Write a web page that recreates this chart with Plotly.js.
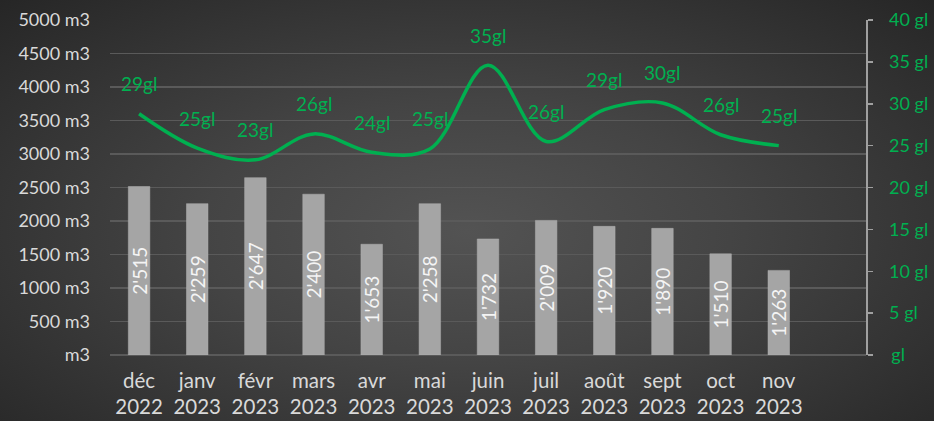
<!DOCTYPE html>
<html>
<head>
<meta charset="utf-8">
<script src="https://cdn.plot.ly/plotly-3.0.1.min.js"></script>
<style>
  html, body { margin: 0; padding: 0; }
  body {
    width: 934px; height: 421px; overflow: hidden;
    background: radial-gradient(ellipse farthest-corner at 50% 55%, #535353 0%, #444444 40%, #262626 100%);
  }
  #chart { width: 934px; height: 421px; }
</style>
</head>
<body>
<div id="chart"></div>
<script>
const months = ["déc", "janv", "févr", "mars", "avr", "mai", "juin", "juil", "août", "sept", "oct", "nov"];
const years = ["2022", "2023", "2023", "2023", "2023", "2023", "2023", "2023", "2023", "2023", "2023", "2023"];
const volumeM3 = [2515, 2259, 2647, 2400, 1653, 2258, 1732, 2009, 1920, 1890, 1510, 1263];
const gl = [28.8, 24.7, 23.3, 26.4, 24.2, 24.6, 34.6, 25.5, 29.3, 30.1, 26.3, 25.0];
const leftTickVals = [0, 500, 1000, 1500, 2000, 2500, 3000, 3500, 4000, 4500, 5000];
const leftTickText = ["\u00a0m3", "500 m3", "1000 m3", "1500 m3", "2000 m3", "2500 m3", "3000 m3", "3500 m3", "4000 m3", "4500 m3", "5000 m3"];
const rightTickVals = [0, 5, 10, 15, 20, 25, 30, 35, 40];
const rightTickText = ["\u2009gl", "5 gl", "10 gl", "15 gl", "20 gl", "25 gl", "30 gl", "35 gl", "40 gl"];

const cats = months.map((m, i) => m + "<br>" + years[i]);
const fmt = v => { const s = String(v); return s.length > 3 ? s.slice(0, s.length - 3) + "'" + s.slice(-3) : s; };
const barText = volumeM3.map(fmt);
const glText = gl.map(v => Math.round(v) + "gl");

const FONT = "Lato, 'Open Sans', sans-serif";
const GREEN = "#00b050";

const traces = [
  {
    type: "bar",
    x: cats,
    y: volumeM3,
    width: 0.37,
    marker: { color: "#a5a5a5", line: { color: "#b0b0b0", width: 0.5 } },
    text: barText,
    textposition: "inside",
    insidetextanchor: "middle",
    textangle: -90,
    constraintext: "none",
    textfont: { family: FONT, size: 19, color: "#f4f4f4" },
    hoverinfo: "skip"
  },
  {
    type: "scatter",
    mode: "lines",
    x: cats,
    y: gl,
    yaxis: "y2",
    line: { color: GREEN, width: 3.5, shape: "spline", smoothing: 1 },
    hoverinfo: "skip"
  }
];

const annotations = gl.map((v, i) => ({
  x: i, y: v, xref: "x", yref: "y2",
  text: glText[i], showarrow: false,
  xanchor: "center", yanchor: "middle", yshift: 30,
  font: { family: FONT, size: 19, color: GREEN }
}));

const layout = {
  width: 934, height: 421,
  margin: { l: 110, r: 68, t: 20, b: 66 },
  paper_bgcolor: "rgba(0,0,0,0)",
  plot_bgcolor: "rgba(0,0,0,0)",
  showlegend: false,
  xaxis: {
    type: "category",
    range: [-0.5, 12.5],
    showgrid: false, zeroline: false, showline: false,
    ticks: "",
    tickfont: { family: FONT, size: 20.5, color: "#d9d9d9" },
    ticklabelstandoff: 11,
    fixedrange: true
  },
  yaxis: {
    range: [0, 5000],
    tickvals: leftTickVals,
    ticktext: leftTickText,
    showgrid: true, gridcolor: "#5a5a5a", gridwidth: 1.5,
    zeroline: true, zerolinecolor: "#5a5a5a", zerolinewidth: 1.5,
    showline: false, ticks: "",
    tickfont: { family: FONT, size: 18, color: "#d9d9d9" },
    ticklabelstandoff: 19,
    fixedrange: true
  },
  yaxis2: {
    overlaying: "y", side: "right",
    range: [0, 40],
    tickvals: rightTickVals,
    ticktext: rightTickText,
    showgrid: false, zeroline: false,
    showline: true, linecolor: "#a0a0a0", linewidth: 1.5,
    ticks: "outside", ticklen: 5, tickcolor: "#a0a0a0", tickwidth: 1.5,
    tickfont: { family: FONT, size: 18, color: GREEN },
    ticklabelstandoff: 13,
    fixedrange: true
  },
  annotations: annotations
};

Plotly.newPlot("chart", traces, layout, { staticPlot: true, displayModeBar: false });
</script>
</body>
</html>
